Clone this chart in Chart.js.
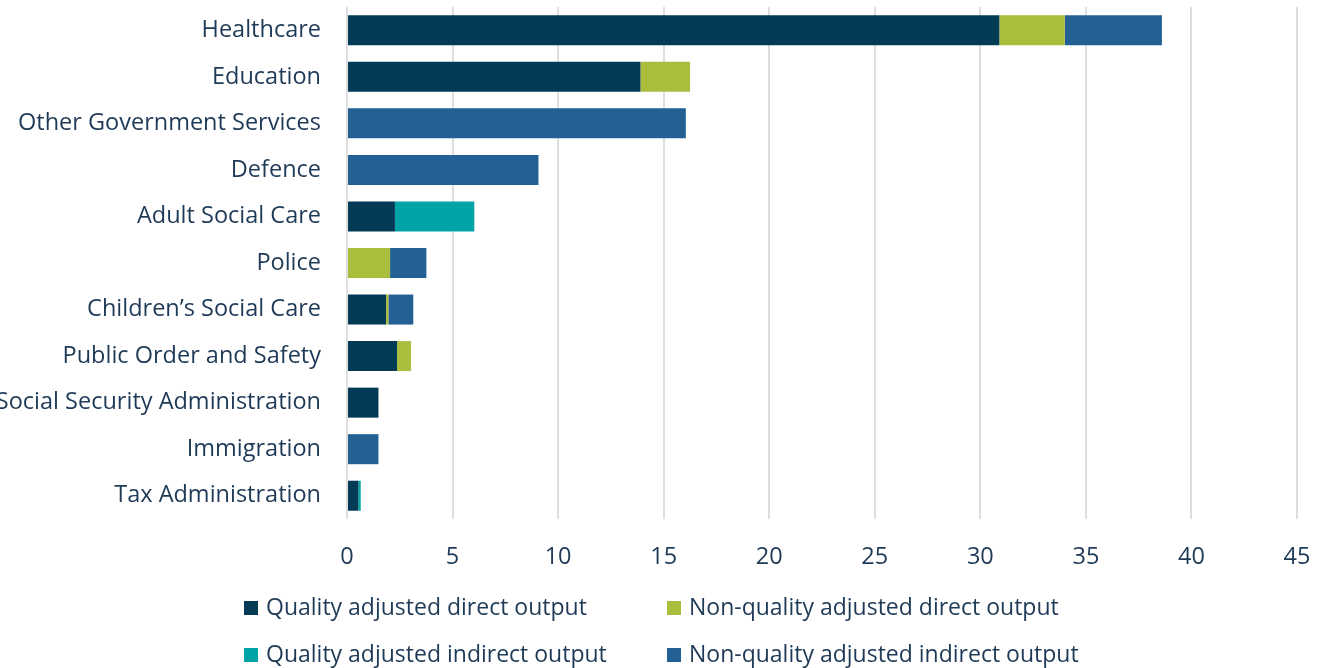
<!DOCTYPE html>
<html>
<head>
<meta charset="utf-8">
<script src="https://cdn.jsdelivr.net/npm/chart.js@4/dist/chart.umd.min.js"></script>
<style>
html,body{margin:0;padding:0;background:#fff;}
#wrap{width:1319px;height:668px;position:relative;}
</style>
</head>
<body>
<div id="wrap"><canvas id="c" width="1319" height="668"></canvas></div>
<script>
const categories = ["Healthcare","Education","Other Government Services","Defence","Adult Social Care","Police","Children\u2019s Social Care","Public Order and Safety","Social Security Administration","Immigration","Tax Administration"];
const qualityDirect     = [30.9, 13.9, 0,     0,    2.27, 0,    1.85, 2.37, 1.49, 0,    0.54];
const nonQualityDirect  = [3.1,  2.35, 0,     0,    0,    2.04, 0.11, 0.66, 0,    0,    0];
const qualityIndirect   = [0,    0,    0,     0,    3.76, 0,    0,    0,    0,    0,    0.11];
const nonQualityIndirect= [4.6,  0,    16.05, 9.07, 0,    1.72, 1.18, 0,    0,    1.49, 0];
const seriesNames = ["Quality adjusted direct output","Non-quality adjusted direct output","Quality adjusted indirect output","Non-quality adjusted indirect output"];
const xTicks = [0,5,10,15,20,25,30,35,40,45];

const colors = ["#033a56","#aabd3c","#00a4a6","#236194"];
const textColor = "#1f3a57";
const FONT = "'Open Sans', sans-serif";

const legendPlugin = {
  id: 'gridLegend',
  afterDraw(chart) {
    const ctx = chart.ctx;
    const pos = [[244,608],[667,608],[244,655],[667,655]];
    ctx.save();
    ctx.font = "23px " + FONT;
    ctx.textBaseline = "middle";
    ctx.textAlign = "left";
    chart.data.datasets.forEach((ds, i) => {
      const [x, y] = pos[i];
      ctx.fillStyle = ds.backgroundColor;
      ctx.fillRect(x, y - 7, 14, 14);
      ctx.fillStyle = textColor;
      ctx.fillText(ds.label, x + 22, y);
    });
    ctx.restore();
  }
};

const seriesData = [qualityDirect, nonQualityDirect, qualityIndirect, nonQualityIndirect];

new Chart(document.getElementById('c'), {
  type: 'bar',
  data: {
    labels: categories,
    datasets: seriesData.map((d, i) => ({
      label: seriesNames[i],
      data: d,
      backgroundColor: colors[i],
      borderWidth: 0,
      categoryPercentage: 1,
      barPercentage: 0.645
    }))
  },
  options: {
    indexAxis: 'y',
    responsive: false,
    animation: false,
    devicePixelRatio: 1,
    layout: { padding: { left: 0, right: 22, top: 7, bottom: 89 } },
    plugins: {
      legend: { display: false },
      tooltip: { enabled: false }
    },
    scales: {
      x: {
        stacked: true,
        min: 0, max: 45,
        afterBuildTicks(scale) { scale.ticks = xTicks.map(v => ({ value: v })); },
        afterFit(scale) { scale.height = 60; scale.paddingLeft = 0; scale.paddingRight = 0; },
        grid: { color: "#dedede", lineWidth: 2, drawTicks: false },
        border: { display: false },
        ticks: { color: textColor, font: { family: FONT, size: 23.5 }, padding: 24, maxRotation: 0 }
      },
      y: {
        stacked: true,
        afterFit(scale) { scale.width = 347; scale.paddingTop = 0; scale.paddingBottom = 0; },
        grid: { display: false, drawTicks: false },
        border: { display: false },
        ticks: { color: textColor, font: { family: FONT, size: 23.5 }, padding: 26, autoSkip: false }
      }
    }
  },
  plugins: [legendPlugin]
});
</script>
</body>
</html>
